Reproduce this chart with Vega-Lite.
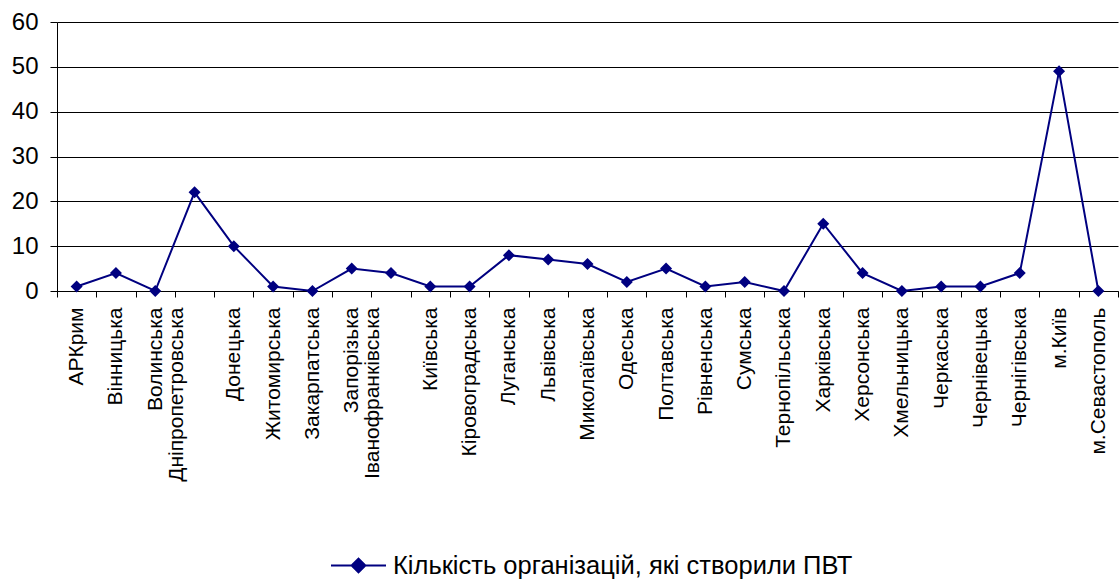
{
  "$schema": "https://vega.github.io/schema/vega-lite/v6.json",
  "width": 1061,
  "height": 269,
  "autosize": "none",
  "padding": {"left": 57, "top": 22, "right": 1, "bottom": 294},
  "background": "white",
  "config": {"view": {"stroke": null}, "font": "Liberation Sans"},
  "data": {
    "values": [
      {"region": "АРКрим", "count": 1},
      {"region": "Вінницька", "count": 4},
      {"region": "Волинська", "count": 0},
      {"region": "Дніпропетровська", "count": 22},
      {"region": "Донецька", "count": 10},
      {"region": "Житомирська", "count": 1},
      {"region": "Закарпатська", "count": 0},
      {"region": "Запорізька", "count": 5},
      {"region": "Іванофранківська", "count": 4},
      {"region": "Київська", "count": 1},
      {"region": "Кіровоградська", "count": 1},
      {"region": "Луганська", "count": 8},
      {"region": "Львівська", "count": 7},
      {"region": "Миколаївська", "count": 6},
      {"region": "Одеська", "count": 2},
      {"region": "Полтавська", "count": 5},
      {"region": "Рівненська", "count": 1},
      {"region": "Сумська", "count": 2},
      {"region": "Тернопільська", "count": 0},
      {"region": "Харківська", "count": 15},
      {"region": "Херсонська", "count": 4},
      {"region": "Хмельницька", "count": 0},
      {"region": "Черкаська", "count": 1},
      {"region": "Чернівецька", "count": 1},
      {"region": "Чернігівська", "count": 4},
      {"region": "м.Київ", "count": 49},
      {"region": "м.Севастополь", "count": 0}
    ]
  },
  "mark": {
    "type": "line",
    "strokeWidth": 2,
    "point": {"shape": "diamond", "size": 144, "filled": true}
  },
  "encoding": {
    "x": {
      "field": "region",
      "type": "nominal",
      "sort": null,
      "scale": {"type": "band", "paddingInner": 0, "paddingOuter": 0},
      "axis": {
        "title": null,
        "labelAngle": -90,
        "labelFontSize": 21,
        "labelColor": "black",
        "labelLineHeight": 21,
        "labelPadding": 10,
        "labelOverlap": false,
        "labelLimit": 300,
        "labelBound": false,
        "tickBand": "extent",
        "tickSize": 6,
        "tickColor": "black",
        "domainColor": "black",
        "grid": false,
        "labelExpr": "datum.value === 'Волинська' ? ['Волинська', 'Дніпропетровська'] : datum.value === 'Дніпропетровська' ? '' : datum.value === 'Запорізька' ? ['Запорізька', 'Іванофранківська'] : datum.value === 'Іванофранківська' ? '' : datum.value",
        "encode": {
          "labels": {
            "update": {
              "dy": {"signal": "datum.value === 'Волинська' || datum.value === 'Запорізька' ? 11 : 0"}
            }
          }
        }
      }
    },
    "y": {
      "field": "count",
      "type": "quantitative",
      "scale": {"domain": [0, 60], "nice": false},
      "axis": {
        "title": null,
        "values": [0, 10, 20, 30, 40, 50, 60],
        "grid": true,
        "gridColor": "black",
        "gridWidth": 1,
        "domainColor": "black",
        "tickColor": "black",
        "tickSize": 7,
        "labelPadding": 12,
        "labelFontSize": 24,
        "labelColor": "black"
      }
    },
    "color": {
      "datum": "Кількість організацій, які створили ПВТ",
      "type": "nominal",
      "scale": {"range": ["#000080"]},
      "legend": {
        "title": null,
        "orient": "none",
        "legendX": 273,
        "legendY": 515,
        "padding": 0,
        "symbolType": "M-1,0L1,0M-0.25,0L0,-0.25L0.25,0L0,0.25Z",
        "symbolSize": 3025,
        "symbolStrokeWidth": 2,
        "symbolFillColor": "#000080",
        "symbolStrokeColor": "#000080",
        "labelFontSize": 25.5,
        "labelColor": "black",
        "labelOffset": 6,
        "labelLimit": 700
      }
    }
  }
}
